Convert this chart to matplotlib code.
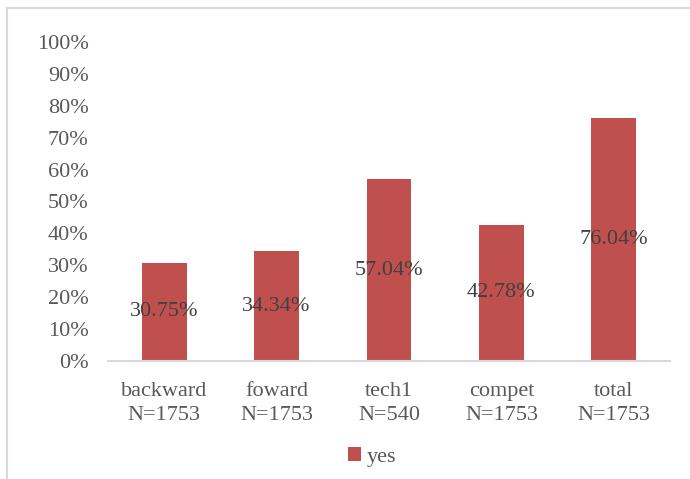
import matplotlib.pyplot as plt
from matplotlib.lines import Line2D
from matplotlib.ticker import FuncFormatter

categories = ["backward\nN=1753", "foward\nN=1753", "tech1\nN=540",
              "compet\nN=1753", "total\nN=1753"]
yes_share = [30.75, 34.34, 57.04, 42.78, 76.04]

plt.rcParams['font.family'] = ['Liberation Serif', 'DejaVu Serif']

fig = plt.figure(figsize=(6.9, 4.79), dpi=100)
ax = fig.add_axes([108 / 690, 1 - 361 / 479, 562 / 690, 319 / 479])

x = range(len(categories))
bars = ax.bar(x, yes_share, width=0.4, color="#C0504D", label="yes", zorder=2)
for b, v in zip(bars, yes_share):
    ax.text(b.get_x() + b.get_width() / 2, v / 2, f"{v:.2f}%",
            ha="center", va="center", fontsize=16, color="#404040", zorder=3)

ax.set_xlim(-0.5, len(categories) - 0.5)
ax.set_ylim(0, 100)
ax.set_yticks(range(0, 101, 10))
ax.yaxis.set_major_formatter(FuncFormatter(lambda v, p: f"{v:.0f}%"))
ax.set_xticks(list(x))
ax.set_xticklabels(categories, linespacing=1.35)
ax.tick_params(axis="both", length=0, labelsize=16, labelcolor="#595959")
ax.tick_params(axis="y", pad=14)
ax.tick_params(axis="x", pad=15)
for s in ["top", "right", "left"]:
    ax.spines[s].set_visible(False)
ax.spines["bottom"].set_color("#D9D9D9")
ax.spines["bottom"].set_linewidth(1.5)

ax.legend(loc="center", bbox_to_anchor=(0.47, -0.3), frameon=False,
          fontsize=16, handlelength=0.6, handleheight=0.6, handletextpad=0.25,
          labelcolor="#595959")

# outer chart frame (top and left edges visible)
fig.add_artist(Line2D([7 / 690, 1], [1 - 7.5 / 479] * 2, color="#D9D9D9", lw=1.5))
fig.add_artist(Line2D([7 / 690] * 2, [1 - 7.5 / 479, 0], color="#D9D9D9", lw=1.5))

fig.savefig("out.png", dpi=100)
